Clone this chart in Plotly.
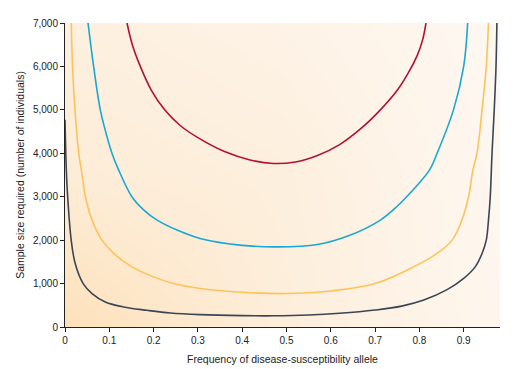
import plotly.graph_objects as go

# Curve data (frequency of allele, sample size)
dark_x = [0.0, 0.003, 0.006, 0.014, 0.023, 0.041, 0.061, 0.091, 0.132, 0.185, 0.238, 0.305, 0.4, 0.47, 0.55, 0.62, 0.7, 0.76, 0.81, 0.8625, 0.9, 0.926, 0.9415, 0.951, 0.956, 0.96, 0.964, 0.969, 0.973, 0.975]
dark_y = [4770, 3617, 3000, 2000, 1463, 1000, 770, 577, 462, 385, 323, 286, 262, 258, 275, 315, 390, 480, 620, 860, 1120, 1385, 1694, 2000, 2462, 3000, 4000, 5000, 6000, 7000]

gold_x = [0.0142, 0.017, 0.0226, 0.031, 0.037, 0.046, 0.061, 0.0835, 0.11, 0.151, 0.2, 0.245, 0.305, 0.4, 0.5, 0.6, 0.7, 0.787, 0.84, 0.874, 0.896, 0.911, 0.921, 0.930, 0.9415, 0.951, 0.956]
gold_y = [7000, 6000, 5000, 4000, 3617, 3000, 2462, 2000, 1694, 1385, 1154, 1000, 886, 800, 770, 830, 1000, 1385, 1694, 2000, 2462, 3000, 3617, 4000, 5000, 6000, 7000]

cyan_x = [0.052, 0.0646, 0.0797, 0.093, 0.106, 0.121, 0.151, 0.178, 0.208, 0.253, 0.305, 0.4, 0.48, 0.57, 0.64, 0.712, 0.75, 0.787, 0.823, 0.84, 0.877, 0.9, 0.909]
cyan_y = [7000, 6000, 5000, 4450, 4000, 3617, 3000, 2693, 2462, 2232, 2040, 1880, 1845, 1900, 2100, 2462, 2780, 3170, 3617, 4000, 5000, 6000, 7000]

red_x = [0.14, 0.152, 0.17, 0.195, 0.225, 0.26, 0.30, 0.36, 0.42, 0.47, 0.52, 0.57, 0.62, 0.667, 0.712, 0.75, 0.775, 0.795, 0.807, 0.815]
red_y = [7000, 6500, 6000, 5450, 5000, 4640, 4360, 4040, 3840, 3765, 3800, 3950, 4200, 4560, 5000, 5450, 5850, 6250, 6600, 7000]

x_ticks = [0, 0.1, 0.2, 0.3, 0.4, 0.5, 0.6, 0.7, 0.8, 0.9]
x_labels = ["0", "0.1", "0.2", "0.3", "0.4", "0.5", "0.6", "0.7", "0.8", "0.9"]
y_ticks = [0, 1000, 2000, 3000, 4000, 5000, 6000, 7000]
y_labels = ["0", "1,000", "2,000", "3,000", "4,000", "5,000", "6,000", "7,000"]

# Background shading grid (darker at lower left)
bg_x = [0, 0.49, 0.982]
bg_y = [0, 3500, 7000]
bg_z = [[1.0, 0.5, 0.15],
        [0.55, 0.45, 0.12],
        [0.42, 0.3, 0.08]]

fig = go.Figure()
fig.add_trace(go.Heatmap(x=bg_x, y=bg_y, z=bg_z, zsmooth="best", showscale=False,
                         colorscale=[[0, "#fef8f2"], [0.45, "#fdeedb"], [1, "#fde1ba"]],
                         hoverinfo="skip"))

for xs, ys, col in [(dark_x, dark_y, "#3b4655"), (gold_x, gold_y, "#fdc35a"),
                    (cyan_x, cyan_y, "#17a8d4"), (red_x, red_y, "#b3112e")]:
    fig.add_trace(go.Scatter(x=xs, y=ys, mode="lines",
                             line=dict(color=col, width=1.6, shape="spline", smoothing=1.0),
                             showlegend=False))

font_family = "Liberation Sans, Arial, sans-serif"
# page body has an 8px margin, so the figure is sized/offset to compensate
fig.update_layout(
    width=512, height=361,
    margin=dict(l=56.7, r=20, t=15.3, b=42.3),
    paper_bgcolor="white", plot_bgcolor="white",
    font=dict(family=font_family, size=10, color="#222"),
    xaxis=dict(range=[0, 0.982], tickvals=x_ticks, ticktext=x_labels, automargin=False,
               showgrid=False, zeroline=False, showline=True, linecolor="#222", linewidth=1,
               ticks="outside", ticklen=4, tickcolor="#222",
               title=dict(text="Frequency of disease-susceptibility allele", font=dict(size=10.5), standoff=10)),
    yaxis=dict(range=[0, 7000], tickvals=y_ticks, ticktext=y_labels, automargin=False,
               showgrid=False, zeroline=False, showline=True, linecolor="#222", linewidth=1,
               ticks="outside", ticklen=4, tickcolor="#222",
               title=dict(text="Sample size required (number of individuals)", font=dict(size=10.5), standoff=6)),
)

fig.write_html("out.html")
